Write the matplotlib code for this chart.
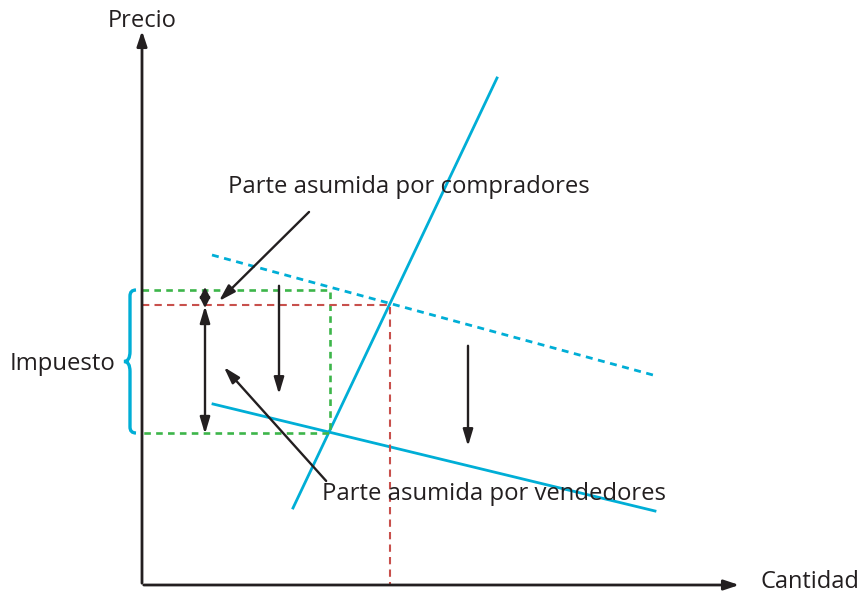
import numpy as np
import matplotlib.pyplot as plt
from matplotlib.path import Path
from matplotlib.patches import PathPatch

# Esquema de incidencia del impuesto (coordenadas del dibujo en pixeles)
oferta_x = [293, 497]
oferta_y = [508, 78]
demanda_x = [212, 653]
demanda_y = [255, 375]
demanda_nueva_x = [213, 655]
demanda_nueva_y = [404, 511]

precio_comprador = 290
precio_original = 305
precio_vendedor = 433
cantidad_nueva = 330
cantidad_original = 390

cian = '#00AED6'
verde = '#3DB54A'
rojo = '#C8504C'

plt.rcParams['font.family'] = ['Open Sans', 'DejaVu Sans']

fig = plt.figure(figsize=(8.67, 5.97), dpi=100)
ax = fig.add_axes([0, 0, 1, 1])
ax.set_xlim(0, 867)
ax.set_ylim(597, 0)
ax.axis('off')

# ejes
ax.annotate('', xy=(142, 28), xytext=(142, 586),
            arrowprops=dict(arrowstyle='-|>,head_length=0.9,head_width=0.3', lw=2, color='#231F20'))
ax.annotate('', xy=(742, 585), xytext=(141, 585),
            arrowprops=dict(arrowstyle='-|>,head_length=0.9,head_width=0.3', lw=2, color='#231F20'))
ax.text(142, 21, 'Precio', ha='center', va='center', fontsize=17, color='#231F20')
ax.text(810, 582, 'Cantidad', ha='center', va='center', fontsize=17, color='#231F20')

# curvas
ax.plot(oferta_x, oferta_y, color=cian, lw=2)
ax.plot(demanda_x, demanda_y, color=cian, lw=2, ls=(0, (2.5, 2)))
ax.plot(demanda_nueva_x, demanda_nueva_y, color=cian, lw=2)

# lineas punteadas
ax.plot([142, cantidad_nueva, cantidad_nueva, 142],
        [precio_comprador, precio_comprador, precio_vendedor, precio_vendedor],
        color=verde, lw=1.9, ls=(0, (2.5, 2)))
ax.plot([142, cantidad_original, cantidad_original],
        [precio_original, precio_original, 585],
        color=rojo, lw=1.5, ls=(0, (3.5, 2.5)))

flecha = dict(arrowstyle='-|>,head_length=1.0,head_width=0.3', lw=1.7, color='#231F20')
doble = dict(arrowstyle='<|-|>,head_length=1.0,head_width=0.3', lw=1.7, color='#231F20', shrinkA=0, shrinkB=0)
ax.annotate('', xy=(205, precio_comprador - 3), xytext=(205, precio_original + 3),
            arrowprops=dict(doble, arrowstyle='<|-|>,head_length=0.6,head_width=0.3'))
ax.annotate('', xy=(205, precio_original + 1), xytext=(205, precio_vendedor + 1), arrowprops=doble)
ax.annotate('', xy=(279, 397), xytext=(279, 283), arrowprops=flecha)
ax.annotate('', xy=(468, 449), xytext=(468, 343), arrowprops=flecha)
ax.annotate('', xy=(217, 303), xytext=(311, 210), arrowprops=flecha)
ax.annotate('', xy=(222, 365), xytext=(328, 483), arrowprops=flecha)

ax.text(228, 187, 'Parte asumida por compradores', ha='left', va='center', fontsize=17.2, color='#231F20')
ax.text(322, 494, 'Parte asumida por vendedores', ha='left', va='center', fontsize=17.2, color='#231F20')
ax.text(62, 364, 'Impuesto', ha='center', va='center', fontsize=17.2, color='#231F20')

# llave
top, mid, bot = precio_comprador, (precio_comprador + precio_vendedor) / 2, precio_vendedor
verts = [(136, top), (130, top), (130, top + 6), (130, top + 12),
         (130, mid - 10), (130, mid), (124, mid),
         (130, mid), (130, mid + 10),
         (130, bot - 12), (130, bot - 6), (130, bot), (136, bot)]
codes = [Path.MOVETO, Path.CURVE3, Path.CURVE3, Path.LINETO,
         Path.LINETO, Path.CURVE3, Path.CURVE3,
         Path.CURVE3, Path.CURVE3,
         Path.LINETO, Path.LINETO, Path.CURVE3, Path.CURVE3]
ax.add_patch(PathPatch(Path(verts, codes), fill=False, edgecolor=cian, lw=2.4))

fig.savefig('out.png', dpi=100)
